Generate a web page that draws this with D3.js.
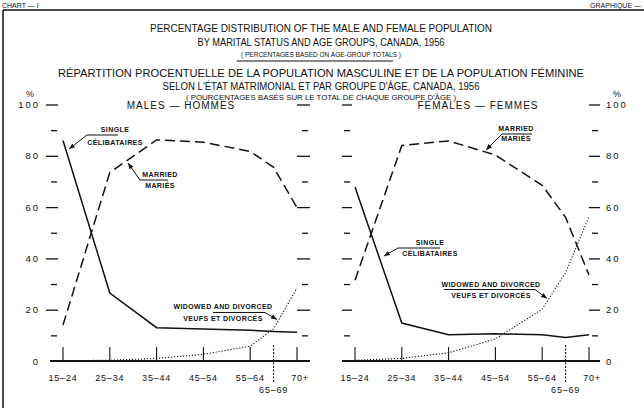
<!DOCTYPE html>
<html><head><meta charset="utf-8">
<script src="https://cdn.jsdelivr.net/npm/d3@7"></script>
<style>
body{margin:0;background:#fff;}
svg{display:block;}
text{font-family:"Liberation Sans",Arial,sans-serif;fill:#111;}
</style></head>
<body><svg id="c" width="644" height="408"></svg>
<script>
// ---- data ----
const ageGroups = ["15-24","25-34","35-44","45-54","55-64","65-69","70+"];
const ageIndex  = [0, 1, 2, 3, 4, 4.5, 5];
const maleSingle   = [86, 26.5, 13, 12.5, 12, 11.5, 11.2];
const maleMarried  = [14, 73.5, 86.2, 85.3, 81.7, 75.5, 59.8];
const maleWidowed  = [0.1, 0.3, 1.0, 2.6, 5.8, 12.5, 28.5];
const femSingle    = [67.8, 14.8, 10.2, 10.6, 10.2, 9.2, 10.2];
const femMarried   = [31.5, 84, 85.8, 80.3, 68.5, 56, 33.5];
const femWidowed   = [0.3, 1.0, 3.2, 8.6, 20.2, 34.5, 56.3];
const majorTicks = [0, 20, 40, 60, 80, 100];
const minorTicks = [10, 30, 50, 70, 90];
const titleLines = [
  "PERCENTAGE DISTRIBUTION OF THE MALE AND FEMALE POPULATION",
  "BY MARITAL STATUS AND AGE GROUPS, CANADA, 1956",
  "( PERCENTAGES BASED ON AGE-GROUP TOTALS )",
  "RÉPARTITION PROCENTUELLE DE LA POPULATION MASCULINE ET DE LA POPULATION FÉMININE",
  "SELON L'ÉTAT MATRIMONIAL ET PAR GROUPE D'ÂGE, CANADA, 1956",
  "( POURCENTAGES BASÉS SUR LE TOTAL DE CHAQUE GROUPE D'ÂGE )"
];
const panelTitles = ["MALES — HOMMES", "FEMALES — FEMMES"];
const seriesLabels = {single:["SINGLE","CÉLIBATAIRES"], married:["MARRIED","MARIÉS"], widowed:["WIDOWED AND DIVORCED","VEUFS ET DIVORCÉS"]};

// ---- drawing ----
const svg = d3.select("#c");
svg.append("rect").attr("width",644).attr("height",408).attr("fill","#fff");
const defs = svg.append("defs");
defs.append("marker").attr("id","arr").attr("viewBox","0 0 10 10").attr("refX",10).attr("refY",5)
  .attr("markerWidth",6).attr("markerHeight",6).attr("orient","auto")
  .append("path").attr("d","M0,1 L10,5 L0,9 Z").attr("fill","#111");

// frame
svg.append("line").attr("x1",3).attr("x2",644).attr("y1",10).attr("y2",10).attr("stroke","#111").attr("stroke-width",1.5);
svg.append("line").attr("x1",3).attr("x2",3).attr("y1",10).attr("y2",408).attr("stroke","#111").attr("stroke-width",1.5);
svg.append("text").attr("x",2).attr("y",8).attr("font-size",7).text("CHART — I");
svg.append("text").attr("x",641).attr("y",8).attr("font-size",7).attr("text-anchor","end").text("GRAPHIQUE —");

// titles
const tl = [
  {y:32, size:11, w:342}, {y:46, size:11, w:247}, {y:57, size:7.5, w:160},
  {y:77, size:11, w:526}, {y:90, size:11, w:317}, {y:100, size:7.5, w:270}
];
titleLines.forEach((t,i)=>{
  svg.append("text").attr("x",321).attr("y",tl[i].y).attr("text-anchor","middle")
    .attr("font-size",tl[i].size).attr("textLength",tl[i].w).attr("lengthAdjust","spacingAndGlyphs").text(t);
});
svg.append("line").attr("x1",237).attr("x2",393).attr("y1",61).attr("y2",61).attr("stroke","#111").attr("stroke-width",1);
svg.append("text").attr("x",30).attr("y",97).attr("font-size",9).attr("text-anchor","middle").text("%");
svg.append("text").attr("x",617).attr("y",97).attr("font-size",9).attr("text-anchor","middle").text("%");

const y = d3.scaleLinear().domain([0,100]).range([361,104.5]);

function styleAxis(g, hideZeroTick, labels){
  g.select(".domain").remove();
  g.selectAll(".tick line").attr("stroke","#111").attr("stroke-width",1.3);
  if(hideZeroTick) g.selectAll(".tick").filter(d=>d===0).select("line").remove();
  g.selectAll(".tick text").attr("font-size",9.5).attr("letter-spacing",2).attr("fill","#111")
    .attr("font-family","Liberation Sans, Arial, sans-serif");
  if(!labels) g.selectAll(".tick text").remove();
}

function panel(opts){
  const x = d3.scaleLinear().domain([0,5]).range([opts.x0, opts.x1]);
  const g = svg.append("g");
  // left axis
  const aL = g.append("g").attr("transform",`translate(${opts.lMajX},0)`)
    .call(d3.axisLeft(y).tickValues(majorTicks).tickSize(opts.lMajS).tickPadding(6).tickFormat(d3.format("d")));
  styleAxis(aL, true, opts.leftLabels);
  const aLm = g.append("g").attr("transform",`translate(${opts.lMinX},0)`)
    .call(d3.axisLeft(y).tickValues(minorTicks).tickSize(6));
  styleAxis(aLm, false, false);
  // right axis
  const aR = g.append("g").attr("transform",`translate(${opts.rMajX},0)`)
    .call(d3.axisRight(y).tickValues(majorTicks).tickSize(opts.rMajS).tickPadding(6).tickFormat(d3.format("d")));
  styleAxis(aR, true, opts.rightLabels);
  const aRm = g.append("g").attr("transform",`translate(${opts.rMinX},0)`)
    .call(d3.axisRight(y).tickValues(minorTicks).tickSize(6));
  styleAxis(aRm, false, false);

  // baseline
  g.append("line").attr("x1",opts.b0).attr("x2",opts.b1).attr("y1",y(0)).attr("y2",y(0))
    .attr("stroke","#111").attr("stroke-width",2.2);
  // category ticks and labels
  ageGroups.forEach((a,i)=>{
    const xi = x(ageIndex[i]);
    const half = ageIndex[i] % 1 !== 0;
    g.append("line").attr("x1",xi).attr("x2",xi).attr("y1",half?345:347).attr("y2",half?383:361)
      .attr("stroke","#111").attr("stroke-width",1.1).attr("stroke-dasharray",half?"2,1.5":null);
    g.append("text").attr("x",xi+(a==="70+"?3:0)).attr("y",half?393:381).attr("text-anchor","middle")
      .attr("font-size",9).attr("letter-spacing",0.8).text(a.replace("-","–"));
  });
  // panel title
  g.append("text").attr("x",opts.titleX).attr("y",109).attr("text-anchor","middle")
    .attr("font-size",10).attr("letter-spacing",1).text(opts.title);

  const line = d3.line().x((d,i)=>x(ageIndex[i])).y(d=>y(d));
  g.append("path").attr("d",line(opts.single)).attr("fill","none").attr("stroke","#111").attr("stroke-width",1.5);
  g.append("path").attr("d",line(opts.married)).attr("fill","none").attr("stroke","#111").attr("stroke-width",1.5)
    .attr("stroke-dasharray","10,5");
  g.append("path").attr("d",line(opts.widowed)).attr("fill","none").attr("stroke","#111").attr("stroke-width",1.1)
    .attr("stroke-dasharray","1.2,1.8");

  // annotations
  opts.notes.forEach(n=>{
    g.append("polyline").attr("points",n.pts.map(p=>p.join(",")).join(" ")).attr("fill","none")
      .attr("stroke","#111").attr("stroke-width",1).attr("marker-end","url(#arr)");
    n.lines.forEach((t,k)=>{
      g.append("text").attr("x",n.tx).attr("y",n.ty[k]).attr("text-anchor","middle")
        .attr("font-size",7).attr("font-weight","bold").attr("letter-spacing",0.4).text(t);
    });
  });
}

panel({
  x0:63, x1:297, b0:50, b1:310,
  lMajX:58, lMajS:12, lMinX:57, leftLabels:true,
  rMajX:297, rMajS:13, rMinX:302, rightLabels:false,
  titleX:181, title:panelTitles[0],
  single:maleSingle, married:maleMarried, widowed:maleWidowed,
  notes:[
    {lines:seriesLabels.single, tx:115, ty:[132,145], pts:[[118,135],[87,135],[69,149]]},
    {lines:seriesLabels.married, tx:160, ty:[177,188], pts:[[168,180],[140,180],[128,163]]},
    {lines:seriesLabels.widowed, tx:223, ty:[309,321], pts:[[213,312.5],[265,312.5],[277,319.5]]}
  ]
});
panel({
  x0:355, x1:589, b0:342, b1:600,
  lMajX:352, lMajS:10, lMinX:350, leftLabels:false,
  rMajX:589, rMajS:11, rMinX:592, rightLabels:true,
  titleX:478, title:panelTitles[1],
  single:femSingle, married:femMarried, widowed:femWidowed,
  notes:[
    {lines:seriesLabels.married, tx:516, ty:[131,141], pts:[[532,134],[502,134],[486,150]]},
    {lines:seriesLabels.single, tx:430, ty:[245,255.5], pts:[[440,248],[398,248],[384,256]]},
    {lines:seriesLabels.widowed, tx:491, ty:[287,297.5], pts:[[444,289.5],[535,289.5],[547,298.5]]}
  ]
});
</script></body></html>
